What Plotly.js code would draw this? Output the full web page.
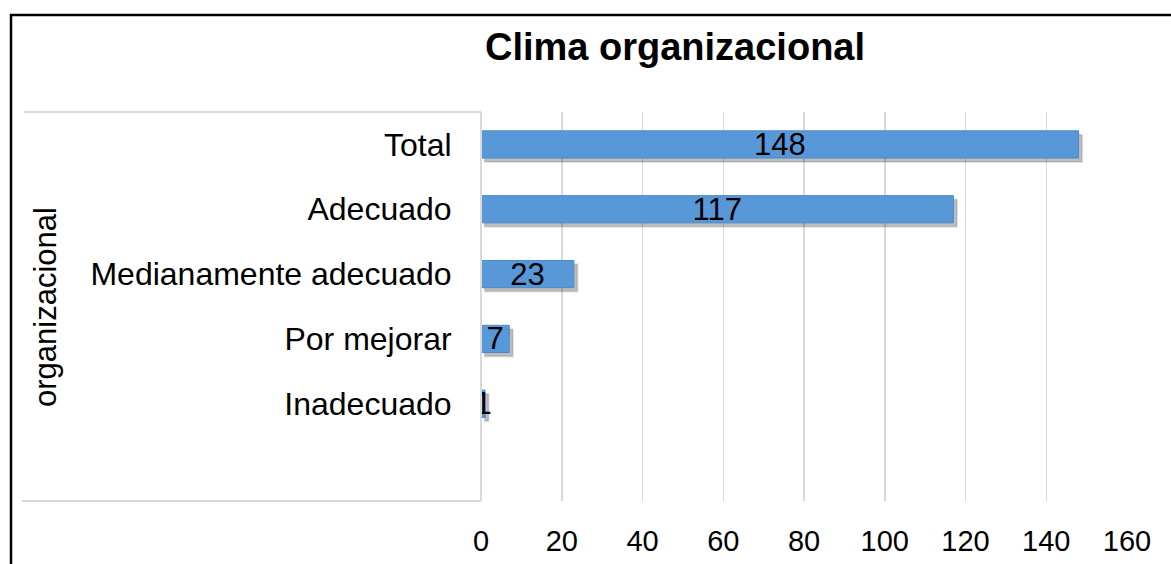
<!DOCTYPE html>
<html>
<head>
<meta charset="utf-8">
<script src="https://cdn.plot.ly/plotly-3.0.1.min.js"></script>
<style>
  html, body { margin: 0; padding: 0; background: #ffffff; }
  #chart { width: 1171px; height: 564px; }
</style>
</head>
<body>
<div id="chart"></div>
<script>
// Data (bottom to top order for horizontal bars)
const categories = ["Inadecuado", "Por mejorar", "Medianamente adecuado", "Adecuado", "Total"];
const counts = [1, 7, 23, 117, 148];
const xTicks = [0, 20, 40, 60, 80, 100, 120, 140, 160];
const chartTitle = "Clima organizacional";
const axisTitle = "organizacional";

const FONT = "Liberation Sans, Arial, sans-serif";

const shadow = {
  type: "bar",
  orientation: "h",
  y: categories,
  x: counts,
  base: 0.9,
  width: 0.42,
  offset: -0.27,
  marker: { color: "rgba(40,40,40,0.30)", line: { color: "rgba(40,40,40,0.12)", width: 2 } },
  hoverinfo: "skip",
  showlegend: false
};

const bars = {
  type: "bar",
  orientation: "h",
  y: categories,
  x: counts,
  width: 0.42,
  marker: { color: "#5898d8", line: { color: "#4a8acb", width: 1 } },
  text: counts.map(String),
  textposition: "inside",
  insidetextanchor: "middle",
  constraintext: "none",
  textangle: 0,
  textfont: { family: FONT, size: 31, color: "#000000" },
  showlegend: false
};

// plot area pixel geometry helpers (for decoration shapes only)
const L = 481, R = 44, T = 112, B = 63, W = 1171, H = 564;
const pw = W - L - R, ph = H - T - B;
const px = v => (v - L) / pw;
const py = v => (H - B - v) / ph;

const layout = {
  width: W,
  height: H,
  margin: { l: L, r: R, t: T, b: B, pad: 0 },
  paper_bgcolor: "#ffffff",
  plot_bgcolor: "#ffffff",
  barmode: "overlay",
  font: { family: FONT, color: "#000000" },
  title: {
    text: "<b>" + chartTitle + "</b>",
    font: { family: FONT, size: 38, color: "#000000" },
    x: 675 / W,
    xanchor: "center",
    xref: "container",
    y: 1 - 47 / H,
    yanchor: "middle",
    yref: "container"
  },
  xaxis: {
    range: [0, 160],
    tickvals: xTicks,
    ticktext: xTicks.map(String),
    showgrid: true,
    gridcolor: "#d9d9d9",
    gridwidth: 1.5,
    zeroline: false,
    showline: false,
    ticks: "outside",
    ticklen: 14,
    tickcolor: "rgba(0,0,0,0)",
    tickfont: { family: FONT, size: 29, color: "#000000" },
    fixedrange: true
  },
  yaxis: {
    type: "category",
    categoryorder: "array",
    categoryarray: categories,
    range: [-1.5, 4.5],
    showgrid: false,
    zeroline: false,
    showline: false,
    ticks: "outside",
    ticklen: 22,
    tickcolor: "rgba(0,0,0,0)",
    tickfont: { family: FONT, size: 32, color: "#000000" },
    fixedrange: true
  },
  annotations: [{
    text: axisTitle,
    xref: "paper", yref: "paper",
    x: px(45), y: py(307),
    xanchor: "center", yanchor: "middle",
    textangle: -90,
    showarrow: false,
    font: { family: FONT, size: 31, color: "#000000" }
  }],
  shapes: [
    // category region frame
    { type: "line", xref: "paper", yref: "paper", x0: px(24), x1: px(481), y0: py(112), y1: py(112),
      line: { color: "#d9d9d9", width: 2 } },
    { type: "line", xref: "paper", yref: "paper", x0: px(22), x1: px(481), y0: py(501), y1: py(501),
      line: { color: "#d9d9d9", width: 2 } },
    { type: "line", xref: "paper", yref: "paper", x0: px(481), x1: px(481), y0: py(112), y1: py(501),
      line: { color: "#d9d9d9", width: 2 } },
    // outer chart border
    { type: "rect", xref: "paper", yref: "paper", x0: px(11), x1: px(1190), y0: py(15), y1: py(600),
      line: { color: "#000000", width: 2.5 }, fillcolor: "rgba(0,0,0,0)" }
  ]
};

Plotly.newPlot("chart", [shadow, bars], layout, { displayModeBar: false, staticPlot: true });
</script>
</body>
</html>
